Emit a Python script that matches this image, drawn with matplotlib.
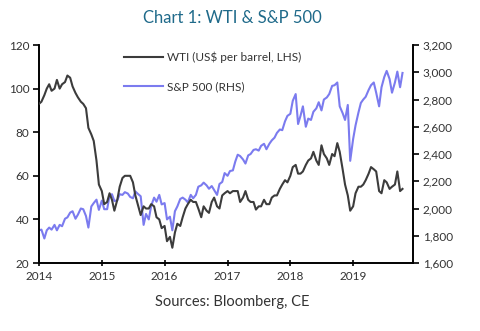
import numpy as np
import pandas as pd
import matplotlib.pyplot as plt
import matplotlib.dates as mdates
from matplotlib.ticker import FuncFormatter

plt.rcParams['font.family'] = ['Lato', 'DejaVu Sans']

# Semi-monthly observations (1st and 15th of each month), Jan 2014 - mid Oct 2019
dates = pd.date_range('2014-01-01', '2019-10-15', freq='SMS')

# WTI, US$ per barrel
wti = [
    93, 94, 97, 100, 102, 99, 100, 104, 100, 102, 103, 106,
    105, 101, 98, 96, 94, 93, 91, 82, 79, 76, 67, 56,
    53, 47, 48, 52, 49, 44, 49, 55, 59, 60, 60, 60,
    57, 51, 46, 42, 46, 45, 45, 47, 46, 41, 40, 36,
    37, 30, 32, 27, 34, 38, 37, 41, 45, 47, 49, 48,
    48, 45, 41, 46, 44, 43, 48, 50, 46, 45, 51, 52,
    53, 52, 53, 53, 53, 48, 50, 53, 49, 48, 48, 44.5,
    46, 46, 49, 47, 47, 50, 51, 51, 54, 56, 58, 57,
    60, 64, 65, 61, 61, 62, 65, 67, 68, 71, 67, 65,
    74, 70, 68, 65, 70, 69, 75, 71, 63, 56, 51, 44,
    46, 52, 55, 55, 56, 58, 61, 64, 63, 62, 53, 52,
    58, 57, 54, 55, 56, 62, 53, 54,
]

# S&P 500 index
spx = [
    1840, 1845, 1780, 1840, 1860, 1845, 1880, 1840, 1880, 1870, 1925, 1935,
    1970, 1980, 1925, 1955, 2000, 1995, 1945, 1860, 2015, 2040, 2065, 1990,
    2058, 1995, 1995, 2095, 2105, 2055, 2060, 2105, 2100, 2120, 2110, 2085,
    2075, 2125, 2105, 2090, 1880, 1960, 1920, 2020, 2080, 2050, 2100, 2030,
    2040, 1920, 1940, 1840, 1980, 2015, 2070, 2080, 2065, 2045, 2100, 2075,
    2100, 2160, 2170, 2190, 2170, 2145, 2165, 2135, 2100, 2180, 2195, 2260,
    2240, 2275, 2280, 2345, 2395, 2385, 2360, 2330, 2390, 2400, 2430, 2435,
    2425, 2460, 2475, 2435, 2475, 2500, 2520, 2555, 2580, 2575, 2640, 2680,
    2695, 2790, 2840, 2620, 2680, 2750, 2600, 2660, 2650, 2710, 2735, 2780,
    2720, 2800, 2815, 2840, 2900, 2905, 2925, 2750, 2700, 2650, 2760, 2350,
    2510, 2610, 2705, 2775, 2800, 2820, 2870, 2905, 2925, 2850, 2750, 2890,
    2965, 3010, 2950, 2850, 2925, 3005, 2890, 2995,
]

fig = plt.figure(figsize=(4.8, 3.31), dpi=100)
ax = fig.add_axes([0.0813, 0.2054, 0.7791, 0.6586])
ax2 = ax.twinx()

l1, = ax.plot(dates, wti, color='#3c3c3c', lw=1.5, zorder=3)
l2, = ax2.plot(dates, spx, color='#7b7bef', lw=1.5)
ax.set_zorder(ax2.get_zorder() + 1)
ax.patch.set_visible(False)

ax.set_ylim(20, 120)
ax.set_yticks(np.arange(20, 121, 20))
ax2.set_ylim(1600, 3200)
ax2.set_yticks(np.arange(1600, 3201, 200))
ax2.yaxis.set_major_formatter(FuncFormatter(lambda v, p: f'{int(v):,}'))

ax.set_xlim(pd.Timestamp('2014-01-01'), pd.Timestamp('2019-12-15'))
ax.xaxis.set_major_locator(mdates.YearLocator())
ax.xaxis.set_major_formatter(mdates.DateFormatter('%Y'))

for a in (ax, ax2):
    a.spines['top'].set_visible(False)
    for s in a.spines.values():
        s.set_linewidth(1.2)
    a.tick_params(labelsize=8.5, labelcolor='#333333', width=1.2, length=4)
ax.tick_params(axis='x', direction='inout', length=5, pad=3)
ax.tick_params(axis='y', pad=3)
ax2.tick_params(axis='y', pad=3)

ax.legend([l1, l2], ['WTI (US$ per barrel, LHS)', 'S&P 500 (RHS)'],
          loc='upper left', bbox_to_anchor=(0.2, 1.02), frameon=False,
          fontsize=8.5, handlelength=3.3, handletextpad=0.3, labelspacing=1.55,
          labelcolor='#333333')

fig.text(0.484, 0.945, 'Chart 1: WTI & S&P 500', ha='center', va='center',
         fontsize=12, color='#1f6a8a')
fig.text(0.484, 0.088, 'Sources: Bloomberg, CE', ha='center', va='center',
         fontsize=10.5, color='#333333')

fig.savefig('out.png', dpi=100)
